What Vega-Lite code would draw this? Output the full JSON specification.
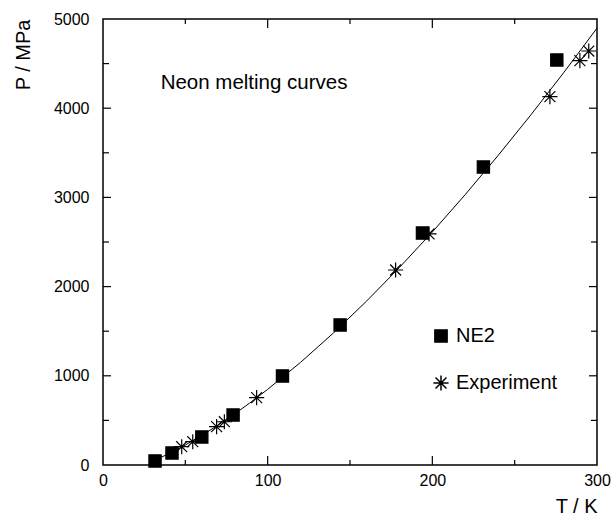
{
  "$schema": "https://vega.github.io/schema/vega-lite/v6.json",
  "width": 494,
  "height": 446,
  "autosize": "none",
  "padding": {"left": 103, "top": 19, "right": 17, "bottom": 54},
  "background": "white",
  "config": {
    "font": "Liberation Sans",
    "view": {"stroke": "black", "strokeWidth": 1.5},
    "axis": {"grid": false, "domain": false, "ticks": false, "labelColor": "black", "titleColor": "black", "titleFontWeight": "normal", "labelFont": "Liberation Sans", "titleFont": "Liberation Sans", "labelFlush": false, "format": "d"}
  },
  "datasets": {
    "curve": [
      {"T": 28, "P": 26}, {"T": 30, "P": 41}, {"T": 40, "P": 127}, {"T": 50, "P": 224},
      {"T": 60, "P": 331}, {"T": 70, "P": 448}, {"T": 80, "P": 573}, {"T": 90, "P": 707},
      {"T": 100, "P": 848}, {"T": 120, "P": 1151}, {"T": 140, "P": 1481}, {"T": 160, "P": 1836},
      {"T": 180, "P": 2214}, {"T": 200, "P": 2612}, {"T": 220, "P": 3032}, {"T": 240, "P": 3471},
      {"T": 260, "P": 3929}, {"T": 280, "P": 4404}, {"T": 300, "P": 4897}
    ],
    "points": [
      {"T": 31.6, "P": 45, "series": "NE2"},
      {"T": 41.9, "P": 135, "series": "NE2"},
      {"T": 60, "P": 314, "series": "NE2"},
      {"T": 79, "P": 560, "series": "NE2"},
      {"T": 109, "P": 998, "series": "NE2"},
      {"T": 144, "P": 1570, "series": "NE2"},
      {"T": 194, "P": 2600, "series": "NE2"},
      {"T": 231, "P": 3340, "series": "NE2"},
      {"T": 275.6, "P": 4540, "series": "NE2"},
      {"T": 47.8, "P": 205, "series": "Experiment"},
      {"T": 54.5, "P": 261, "series": "Experiment"},
      {"T": 69, "P": 430, "series": "Experiment"},
      {"T": 73.7, "P": 485, "series": "Experiment"},
      {"T": 93.3, "P": 755, "series": "Experiment"},
      {"T": 177.7, "P": 2186, "series": "Experiment"},
      {"T": 198, "P": 2590, "series": "Experiment"},
      {"T": 271.4, "P": 4130, "series": "Experiment"},
      {"T": 289.6, "P": 4533, "series": "Experiment"},
      {"T": 295, "P": 4641, "series": "Experiment"}
    ],
    "note": [{"label": "Neon melting curves"}],
    "xmajor": [{"T": 100}, {"T": 200}],
    "xminor": [{"T": 50}, {"T": 150}, {"T": 250}],
    "ymajor": [{"P": 1000}, {"P": 2000}, {"P": 3000}, {"P": 4000}],
    "yminor": [{"P": 500}, {"P": 1500}, {"P": 2500}, {"P": 3500}, {"P": 4500}]
  },
  "layer": [
    {
      "data": {"name": "curve"},
      "mark": {"type": "line", "color": "black", "strokeWidth": 1},
      "encoding": {
        "x": {"field": "T", "type": "quantitative", "scale": {"domain": [0, 300], "nice": false},
          "axis": {"orient": "bottom", "values": [0, 100, 200, 300], "title": "T / K", "titleFontSize": 20, "titleAnchor": "end", "titleAlign": "right", "titlePadding": 8, "labelFontSize": 16, "labelPadding": 7}},
        "y": {"field": "P", "type": "quantitative", "scale": {"domain": [0, 5000], "nice": false},
          "axis": {"orient": "left", "values": [0, 1000, 2000, 3000, 4000, 5000], "title": "P / MPa", "titleFontSize": 20, "titleAnchor": "end", "titleAlign": "right", "titlePadding": 20, "labelFontSize": 16, "labelPadding": 14}}
      }
    },
    {
      "data": {"name": "xmajor"},
      "mark": {"type": "rule", "color": "black", "strokeWidth": 1.2},
      "encoding": {"x": {"field": "T", "type": "quantitative", "axis": null}, "y": {"datum": 0, "type": "quantitative", "axis": null}, "y2": {"datum": 101}}
    },
    {
      "data": {"name": "xmajor"},
      "mark": {"type": "rule", "color": "black", "strokeWidth": 1.2},
      "encoding": {"x": {"field": "T", "type": "quantitative", "axis": null}, "y": {"datum": 5000, "type": "quantitative", "axis": null}, "y2": {"datum": 4899}}
    },
    {
      "data": {"name": "xminor"},
      "mark": {"type": "rule", "color": "black", "strokeWidth": 1.2},
      "encoding": {"x": {"field": "T", "type": "quantitative", "axis": null}, "y": {"datum": 0, "type": "quantitative", "axis": null}, "y2": {"datum": 56}}
    },
    {
      "data": {"name": "xminor"},
      "mark": {"type": "rule", "color": "black", "strokeWidth": 1.2},
      "encoding": {"x": {"field": "T", "type": "quantitative", "axis": null}, "y": {"datum": 5000, "type": "quantitative", "axis": null}, "y2": {"datum": 4944}}
    },
    {
      "data": {"name": "ymajor"},
      "mark": {"type": "rule", "color": "black", "strokeWidth": 1.2},
      "encoding": {"y": {"field": "P", "type": "quantitative", "axis": null}, "x": {"datum": 0, "type": "quantitative", "axis": null}, "x2": {"datum": 4.86}}
    },
    {
      "data": {"name": "ymajor"},
      "mark": {"type": "rule", "color": "black", "strokeWidth": 1.2},
      "encoding": {"y": {"field": "P", "type": "quantitative", "axis": null}, "x": {"datum": 300, "type": "quantitative", "axis": null}, "x2": {"datum": 295.14}}
    },
    {
      "data": {"name": "yminor"},
      "mark": {"type": "rule", "color": "black", "strokeWidth": 1.2},
      "encoding": {"y": {"field": "P", "type": "quantitative", "axis": null}, "x": {"datum": 0, "type": "quantitative", "axis": null}, "x2": {"datum": 3.64}}
    },
    {
      "data": {"name": "yminor"},
      "mark": {"type": "rule", "color": "black", "strokeWidth": 1.2},
      "encoding": {"y": {"field": "P", "type": "quantitative", "axis": null}, "x": {"datum": 300, "type": "quantitative", "axis": null}, "x2": {"datum": 296.36}}
    },
    {
      "data": {"name": "points"},
      "mark": {"type": "point", "stroke": "black", "strokeWidth": 1.2, "opacity": 1},
      "encoding": {
        "x": {"field": "T", "type": "quantitative", "axis": null},
        "y": {"field": "P", "type": "quantitative", "axis": null},
        "shape": {"field": "series", "type": "nominal",
          "scale": {"domain": ["NE2", "Experiment"], "range": ["square", "M-1,0H1M0,-1V1M-0.72,-0.72L0.72,0.72M-0.72,0.72L0.72,-0.72"]},
          "legend": {"title": null, "orient": "none", "legendX": 328, "legendY": 307, "padding": 0, "labelFontSize": 20, "labelFont": "Liberation Sans", "labelColor": "black", "rowPadding": 26, "labelOffset": 5,
            "encode": {"symbols": {"update": {"stroke": {"value": "black"}, "strokeWidth": {"value": 1.2}}}}}},
        "fill": {"field": "series", "type": "nominal",
          "scale": {"domain": ["NE2", "Experiment"], "range": ["black", "transparent"]},
          "legend": {"title": null, "orient": "none", "legendX": 328, "legendY": 307, "padding": 0, "labelFontSize": 20, "labelFont": "Liberation Sans", "labelColor": "black", "rowPadding": 26, "labelOffset": 5,
            "encode": {"symbols": {"update": {"stroke": {"value": "black"}, "strokeWidth": {"value": 1.2}}}}}},
        "size": {"field": "series", "type": "nominal",
          "scale": {"domain": ["NE2", "Experiment"], "range": [150, 230]},
          "legend": {"title": null, "orient": "none", "legendX": 328, "legendY": 307, "padding": 0, "labelFontSize": 20, "labelFont": "Liberation Sans", "labelColor": "black", "rowPadding": 26, "labelOffset": 5,
            "encode": {"symbols": {"update": {"stroke": {"value": "black"}, "strokeWidth": {"value": 1.2}}}}}}
      }
    },
    {
      "data": {"name": "note"},
      "mark": {"type": "text", "align": "left", "baseline": "middle", "fontSize": 20.5, "font": "Liberation Sans", "color": "black"},
      "encoding": {
        "x": {"datum": 35, "type": "quantitative", "axis": null},
        "y": {"datum": 4283, "type": "quantitative", "axis": null},
        "text": {"field": "label"}
      }
    }
  ],
  "resolve": {"axis": {"x": "independent", "y": "independent"}}
}
